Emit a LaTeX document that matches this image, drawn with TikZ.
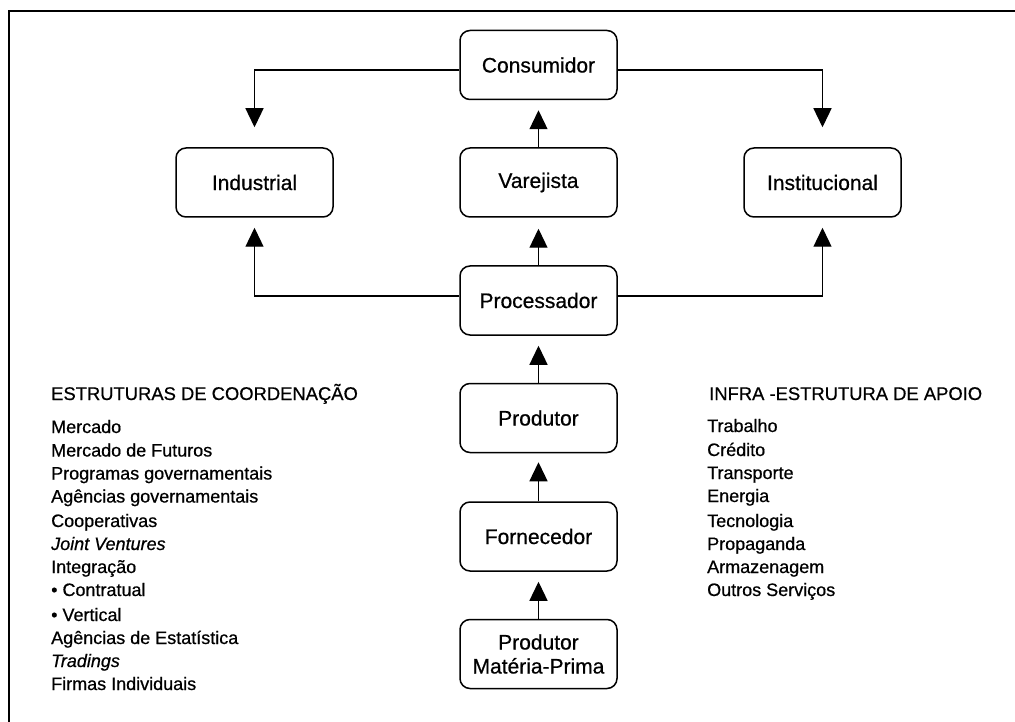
\documentclass[tikz,border=0pt]{standalone}
\usepackage{fontspec}
\setmainfont{Liberation Sans}[FakeBold=0.6]
\usetikzlibrary{arrows.meta}
\begin{document}
\begin{tikzpicture}[x=1pt,y=-1pt,
  chainbox/.style={draw, line width=1.5pt, rounded corners=10pt, minimum width=157pt,
    minimum height=69pt, inner sep=0pt, align=center, font=\fontsize{21}{25}\selectfont},
  flow/.style={line width=1.3pt, -{Triangle[length=19pt,width=18pt]}},
  listtext/.style={anchor=base west, inner sep=0pt, font=\fontsize{18}{21}\selectfont},
  listhead/.style={anchor=base west, inner sep=0pt, font=\fontsize{18.4}{21}\selectfont}]
\useasboundingbox (0,0) rectangle (1015,722);
\fill[white] (0,0) rectangle (1015,722);
% outer frame (open on the right and bottom)
\draw[line width=2.2pt] (9,722) -- (9,11) -- (1015,11);

% chain of agents
\node[chainbox] (cons) at (538.5,65) {Consumidor};
\node[chainbox] (ind)  at (254.5,182.5) {Industrial};
\node[chainbox] (var)  at (538.5,182.5) {Varejista};
\node[chainbox] (inst) at (822.5,182.5) {Institucional};
\node[chainbox] (proc) at (538.5,300.5) {Processador};
\node[chainbox] (prod) at (538.5,418) {Produtor};
\node[chainbox] (forn) at (538.5,536.5) {Fornecedor};
\node[chainbox] (pmp)  at (538.5,654) {Produtor\\[-1pt]Matéria-Prima};

% flows
\draw[flow, shorten >=20pt] ([yshift=-5pt]cons.west) -| (ind.north);
\draw[flow, shorten >=20pt] ([yshift=-5pt]cons.east) -| (inst.north);
\draw[flow, shorten >=10pt] (var.north) -- (cons.south);
\draw[flow, shorten >=11pt] (proc.north) -- (var.south);
\draw[flow, shorten >=10pt] ([yshift=4.5pt]proc.west) -| (ind.south);
\draw[flow, shorten >=10pt] ([yshift=4.5pt]proc.east) -| (inst.south);
\draw[flow, shorten >=10pt] (prod.north) -- (proc.south);
\draw[flow, shorten >=9pt] (forn.north) -- (prod.south);
\draw[flow, shorten >=10pt] (pmp.north) -- (forn.south);

% coordination structures
\node[listhead] (coordh) at (51,400) {ESTRUTURAS DE COORDENAÇÃO};
\node[listtext] (c1)  at (51,433)   {Mercado};
\node[listtext] (c2)  at (51,456.5) {Mercado de Futuros};
\node[listtext] (c3)  at (51,479.5) {Programas governamentais};
\node[listtext] (c4)  at (51,502.5) {Agências governamentais};
\node[listtext] (c5)  at (51,527)   {Cooperativas};
\node[listtext] (c6)  at (51,550)   {\itshape Joint Ventures};
\node[listtext] (c7)  at (51,573)   {Integração};
\node[listtext] (c8)  at (51,596)   {• Contratual};
\node[listtext] (c9)  at (51,621)   {• Vertical};
\node[listtext] (c10) at (51,644)   {Agências de Estatística};
\node[listtext] (c11) at (51,667)   {\itshape Tradings};
\node[listtext] (c12) at (51,690)   {Firmas Individuais};

% support infrastructure
\node[listhead] (infrah) at (709,400) {INFRA -ESTRUTURA DE APOIO};
\node[listtext] (i1) at (707,432) {Trabalho};
\node[listtext] (i2) at (707,456) {Crédito};
\node[listtext] (i3) at (707,479) {Transporte};
\node[listtext] (i4) at (707,502) {Energia};
\node[listtext] (i5) at (707,527) {Tecnologia};
\node[listtext] (i6) at (707,550) {Propaganda};
\node[listtext] (i7) at (707,573) {Armazenagem};
\node[listtext] (i8) at (707,596) {Outros Serviços};
\end{tikzpicture}
\end{document}
